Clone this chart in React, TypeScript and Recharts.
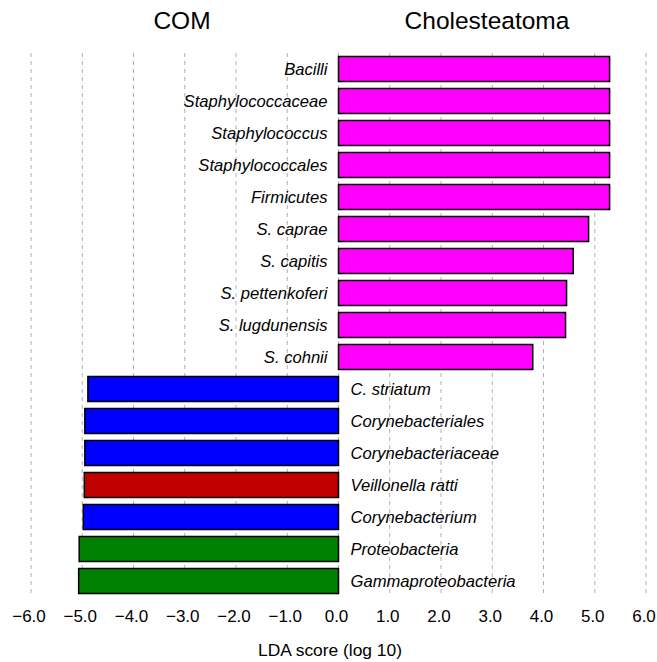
import { Bar, BarChart, CartesianGrid, Cell, LabelList, XAxis, YAxis } from "recharts";

const taxa = [
  "Bacilli",
  "Staphylococcaceae",
  "Staphylococcus",
  "Staphylococcales",
  "Firmicutes",
  "S. caprae",
  "S. capitis",
  "S. pettenkoferi",
  "S. lugdunensis",
  "S. cohnii",
  "C. striatum",
  "Corynebacteriales",
  "Corynebacteriaceae",
  "Veillonella ratti",
  "Corynebacterium",
  "Proteobacteria",
  "Gammaproteobacteria",
];

const ldaScores = [
  5.29, 5.29, 5.29, 5.29, 5.29, 4.88, 4.58, 4.45, 4.43, 3.79,
  -4.89, -4.95, -4.95, -4.96, -4.98, -5.06, -5.07,
];

const barColors = [
  "#ff00ff", "#ff00ff", "#ff00ff", "#ff00ff", "#ff00ff",
  "#ff00ff", "#ff00ff", "#ff00ff", "#ff00ff", "#ff00ff",
  "#0000ff", "#0000ff", "#0000ff", "#c00000", "#0000ff",
  "#008000", "#008000",
];

const xTicks = [-6, -5, -4, -3, -2, -1, 0, 1, 2, 3, 4, 5, 6];

const groupTitles = ["COM", "Cholesteatoma"];

const data = taxa.map((name, i) => ({ name, score: ldaScores[i] }));

const FONT = '"Liberation Sans", Arial, Helvetica, sans-serif';

function formatTick(v: number) {
  const s = Math.abs(v).toFixed(1);
  return v < 0 ? "\u2212" + s : s;
}

function AxisTick(props: any) {
  const { x, y, payload } = props;
  return (
    <text x={x - 2} y={y + 25} textAnchor="middle" fontSize={17} fill="#000" fontFamily={FONT}>
      {formatTick(payload.value)}
    </text>
  );
}

function TaxonLabel(props: any) {
  const { x, y, width, height, value, index } = props;
  const score = ldaScores[index];
  const left = Math.min(x, x + width);
  const right = Math.max(x, x + width);
  const positive = score >= 0;
  const zeroX = positive ? left : right;
  return (
    <text
      x={positive ? zeroX - 11 : zeroX + 12}
      y={y + height / 2}
      dy="0.36em"
      textAnchor={positive ? "end" : "start"}
      fontSize={16.6}
      fontStyle="italic"
      fill="#000"
      fontFamily={FONT}
    >
      {value}
    </text>
  );
}

export default function App() {
  return (
    <div style={{ position: "absolute", left: 0, top: 0, width: 657, height: 662, background: "#fff" }}>
      <BarChart
        width={657}
        height={662}
        data={data}
        layout="vertical"
        margin={{ top: 53, right: 11, left: 31, bottom: 0 }}
        barCategoryGap="11%"
      >
        <CartesianGrid horizontal={false} stroke="#b0b0b0" strokeDasharray="4 4" />
        <XAxis
          type="number"
          domain={[-6, 6]}
          ticks={xTicks}
          axisLine={false}
          tickLine={false}
          tickSize={0}
          tickMargin={0}
          height={65}
          interval={0}
          tick={<AxisTick />}
        />
        <YAxis type="category" dataKey="name" hide />
        <Bar dataKey="score" stroke="#000" strokeWidth={1.5} isAnimationActive={false}>
          {data.map((d, i) => (
            <Cell key={d.name} fill={barColors[i]} />
          ))}
          <LabelList dataKey="name" content={<TaxonLabel />} />
        </Bar>
      </BarChart>
      <svg
        width={657}
        height={662}
        style={{ position: "absolute", left: 0, top: 0, pointerEvents: "none" }}
      >
        <text x={182} y={29} textAnchor="middle" fontSize={24.5} fontFamily={FONT} fill="#000">
          {groupTitles[0]}
        </text>
        <text x={487} y={29} textAnchor="middle" fontSize={24.5} fontFamily={FONT} fill="#000">
          {groupTitles[1]}
        </text>
        <text x={330} y={656} textAnchor="middle" fontSize={17.4} fontFamily={FONT} fill="#000">
          LDA score (log 10)
        </text>
      </svg>
    </div>
  );
}
